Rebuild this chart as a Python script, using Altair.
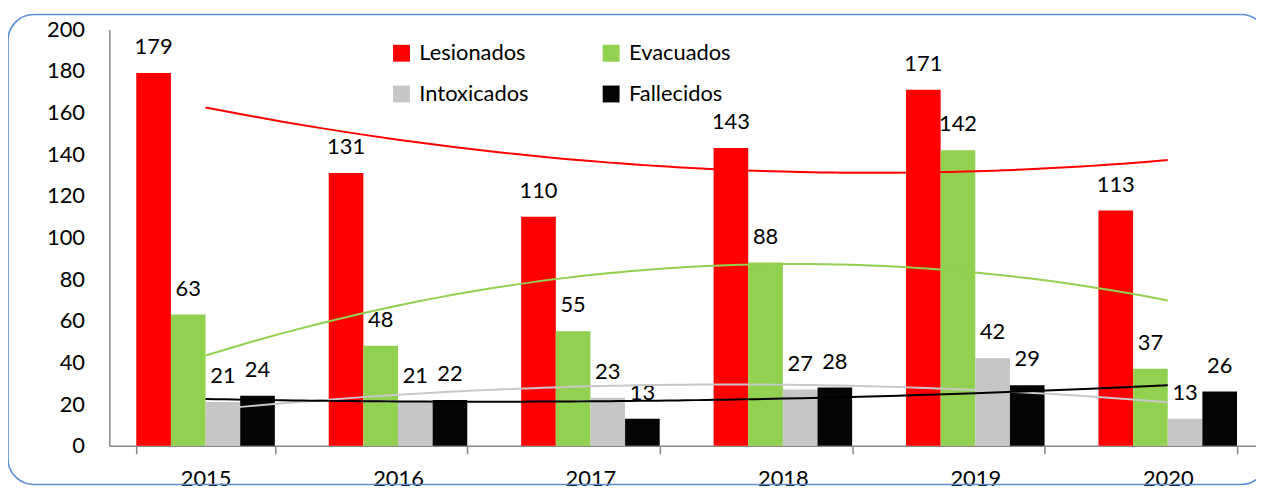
import altair as alt
import pandas as pd

years = ["2015", "2016", "2017", "2018", "2019", "2020"]
series = ["Lesionados", "Evacuados", "Intoxicados", "Fallecidos"]
lesionados = [179, 131, 110, 143, 171, 113]
evacuados = [63, 48, 55, 88, 142, 37]
intoxicados = [21, 21, 23, 27, 42, 13]
fallecidos = [24, 22, 13, 28, 29, 26]

bar_colors = ["#FF0000", "#92D050", "#C6C6C6", "#050505"]
trend_colors = ["#FF0000", "#92D050", "#C8C8C8", "#000000"]

rows = []
for s, vals in zip(series, [lesionados, evacuados, intoxicados, fallecidos]):
    for i, (yr, v) in enumerate(zip(years, vals)):
        rows.append({"year": yr, "idx": i, "series": s, "value": v})
df = pd.DataFrame(rows)

W, H = 1162, 419
FONT = "Lato"
AXIS_GRAY = "#878787"

x_band = alt.X(
    "year:N",
    scale=alt.Scale(domain=years, paddingInner=0.28, paddingOuter=0.14),
    axis=alt.Axis(
        title=None, labelAngle=0, tickBand="extent", tickSize=8,
        tickColor=AXIS_GRAY, domainColor=AXIS_GRAY, domainWidth=1.5, tickWidth=1.5,
        labelFontSize=22, labelPadding=15, labelColor="#000000", grid=False,
    ),
)
x_off = alt.XOffset("series:N", scale=alt.Scale(domain=series, paddingInner=0, paddingOuter=0))
y_enc = alt.Y(
    "value:Q",
    scale=alt.Scale(domain=[0, 200], nice=False, zero=True),
    axis=alt.Axis(
        title=None, values=list(range(0, 201, 20)), grid=False, ticks=False, tickSize=0,
        labelPadding=25, labelFontSize=22, labelColor="#000000",
        domainColor=AXIS_GRAY, domainWidth=1.5,
    ),
)

bars = alt.Chart(df).mark_bar().encode(
    x=x_band,
    xOffset=x_off,
    y=y_enc,
    color=alt.Color(
        "series:N",
        scale=alt.Scale(domain=series, range=bar_colors),
        legend=alt.Legend(
            title=None, orient="none", legendX=283, legendY=13, columns=2,
            direction="horizontal",
            columnPadding=72, rowPadding=19, symbolType="square", symbolSize=289,
            symbolStrokeWidth=0, labelFontSize=22, labelFont=FONT, labelOffset=7,
            labelColor="#000000", padding=0,
        ),
    ),
)

labels = alt.Chart(df).mark_text(dy=-26, fontSize=22, font=FONT, color="#000000", baseline="middle").encode(
    x=x_band,
    xOffset=x_off,
    y=y_enc,
    text="value:Q",
)

bar_layer = alt.layer(bars, labels)

trends = alt.Chart(df).transform_regression(
    "idx", "value", method="poly", order=2, groupby=["series"]
).mark_line(strokeWidth=2).encode(
    x=alt.X("idx:Q", scale=alt.Scale(domain=[-0.5, 5.5], nice=False, zero=False), axis=None),
    y=alt.Y("value:Q"),
    stroke=alt.Stroke("series:N", scale=alt.Scale(domain=series, range=trend_colors), legend=None),
)

border = alt.Chart(pd.DataFrame({"k": [0]})).mark_rect(
    filled=False, stroke="#5B8ED6", strokeWidth=1.6, cornerRadius=26
).encode(
    x=alt.value(-102), x2=alt.value(1165), y=alt.value(-15), y2=alt.value(458)
)

chart = alt.layer(bar_layer, trends, border).resolve_scale(
    x="independent", stroke="independent"
).properties(
    width=W, height=H,
    padding={"left": 102, "top": 20, "right": -8, "bottom": 41},
    autosize=alt.AutoSizeParams(type="none"),
).configure(font=FONT).configure_view(stroke=None)

chart.save("out.html", embed_options={"renderer": "svg", "actions": False})
